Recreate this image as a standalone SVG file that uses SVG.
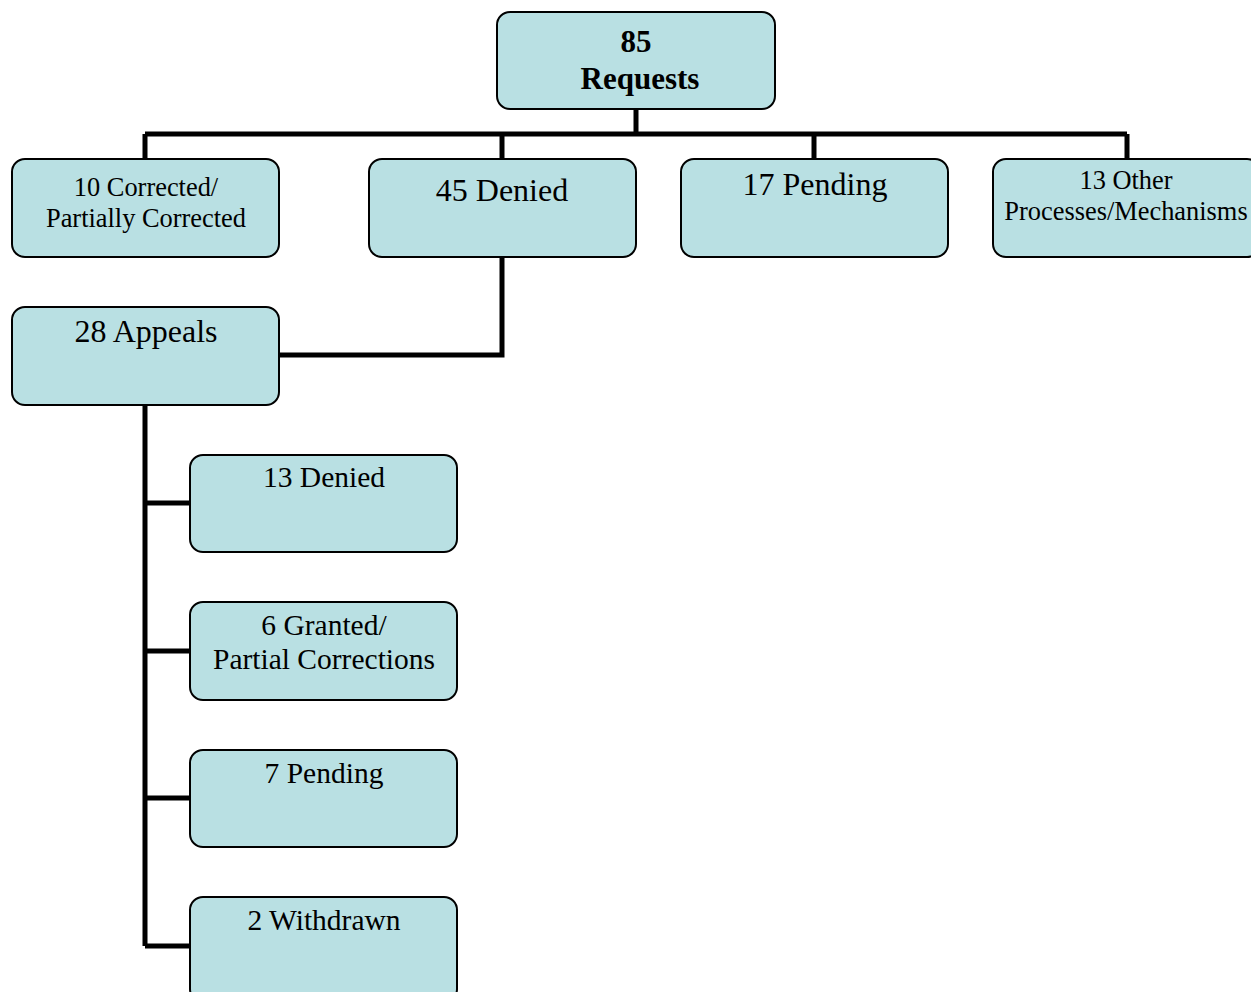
<svg xmlns="http://www.w3.org/2000/svg" width="1251" height="992" viewBox="0 0 1251 992">
<style>
.box{fill:#B9E0E3;stroke:#000;stroke-width:2}
.t{font-family:"Liberation Serif","Times New Roman",serif;fill:#000;text-anchor:middle}
.big{font-size:29.5px}
.lg{font-size:32px}
.sm{font-size:26.4px}
.b{font-size:31px;font-weight:bold}
.c{fill:none;stroke:#000;stroke-width:5}
</style>
<rect width="1251" height="992" fill="#fff"/>
<g id="connectors">
<path class="c" d="M636 109V134M145 134H1127M145 134V159M502 134V159M814 134V159M1127 134V159"/>
<path class="c" d="M502 257V355H279"/>
<path class="c" d="M145 405V946M145 503H190M145 651H190M145 798H190M145 946H190"/>
</g>
<g id="n-requests"><rect class="box" x="497" y="12" width="278" height="97" rx="13"/><text class="t b" x="636" y="52">85</text><text class="t b" x="640" y="89">Requests</text></g>
<g id="n-corrected"><rect class="box" x="12" y="159" width="267" height="98" rx="13"/><text class="t sm" x="146" y="196">10 Corrected/</text><text class="t sm" x="146" y="227">Partially Corrected</text></g>
<g id="n-denied"><rect class="box" x="369" y="159" width="267" height="98" rx="13"/><text class="t lg" x="502" y="201">45 Denied</text></g>
<g id="n-pending"><rect class="box" x="681" y="159" width="267" height="98" rx="13"/><text class="t lg" x="815" y="195">17 Pending</text></g>
<g id="n-other"><rect class="box" x="993" y="159" width="267" height="98" rx="13"/><text class="t sm" x="1126" y="189">13 Other</text><text class="t sm" x="1126" y="220">Processes/Mechanisms</text></g>
<g id="n-appeals"><rect class="box" x="12" y="307" width="267" height="98" rx="13"/><text class="t lg" x="146" y="342">28 Appeals</text></g>
<g id="n-a-denied"><rect class="box" x="190" y="455" width="267" height="97" rx="13"/><text class="t big" x="324" y="487">13 Denied</text></g>
<g id="n-a-granted"><rect class="box" x="190" y="602" width="267" height="98" rx="13"/><text class="t big" x="324" y="635">6 Granted/</text><text class="t big" x="324" y="669">Partial Corrections</text></g>
<g id="n-a-pending"><rect class="box" x="190" y="750" width="267" height="97" rx="13"/><text class="t big" x="324" y="783">7 Pending</text></g>
<g id="n-a-withdrawn"><rect class="box" x="190" y="897" width="267" height="105" rx="13"/><text class="t big" x="324" y="930">2 Withdrawn</text></g>
</svg>
